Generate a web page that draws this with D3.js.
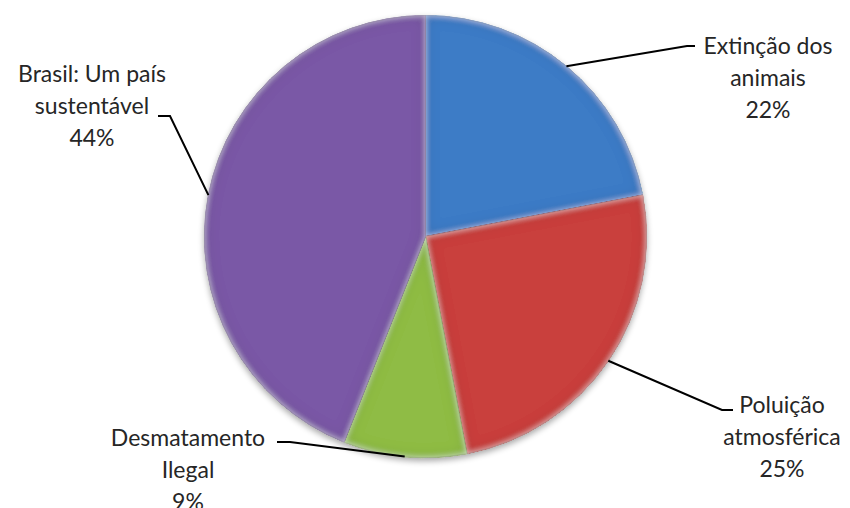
<!DOCTYPE html>
<html>
<head>
<meta charset="utf-8">
<script src="https://cdn.jsdelivr.net/npm/d3@7"></script>
<style>
  html, body { margin: 0; padding: 0; background: #ffffff; }
  svg { display: block; }
</style>
</head>
<body>
<svg id="chart" width="850" height="508"></svg>
<script>
// Survey topics and their share of answers (percent)
const categories = ["Extinção dos animais", "Poluição atmosférica", "Desmatamento Ilegal", "Brasil: Um país sustentável"];
const values = [22, 25, 9, 44];
const labelLines = [
  ["Extinção dos", "animais"],
  ["Poluição", "atmosférica"],
  ["Desmatamento", "Ilegal"],
  ["Brasil: Um país", "sustentável"]
];
const colors = ["#3d7cc6", "#c9403e", "#8fbc45", "#7a58a6"];
const strokeColors = ["#2c5f9e", "#9a2e2c", "#6e9433", "#5c4080"];

// Layout
const width = 850, height = 508;
const cx = 425.5, cy = 236.5, radius = 221;
const fontSize = 23, lineGap = 32;
// Where each callout bends and where its text block sits
const callouts = [
  { elbow: [687, 46], end: [695, 46], tx: 768, ty: 45 },
  { elbow: [722, 410], end: [733, 410], tx: 782, ty: 404 },
  { elbow: [290, 442], end: [277, 442], tx: 188, ty: 437 },
  { elbow: [170, 116], end: [158, 116], tx: 92, ty: 73 }
];

const svg = d3.select("#chart");
const defs = svg.append("defs");

// Soft shadow under the whole pie
const shadow = defs.append("filter").attr("id", "pieShadow")
  .attr("x", "-10%").attr("y", "-10%").attr("width", "120%").attr("height", "125%");
shadow.append("feGaussianBlur").attr("in", "SourceAlpha").attr("stdDeviation", 3).attr("result", "sb");
shadow.append("feOffset").attr("in", "sb").attr("dx", 0).attr("dy", 3).attr("result", "so");
shadow.append("feComponentTransfer").attr("in", "so").attr("result", "sf")
  .append("feFuncA").attr("type", "linear").attr("slope", 0.35);
const sm = shadow.append("feMerge");
sm.append("feMergeNode").attr("in", "sf");
sm.append("feMergeNode").attr("in", "SourceGraphic");

// Rounded bevel on each slice: light rim just inside the edge, darker band behind it
const bevel = defs.append("filter").attr("id", "bevel")
  .attr("x", "-5%").attr("y", "-5%").attr("width", "110%").attr("height", "110%");
bevel.append("feGaussianBlur").attr("in", "SourceAlpha").attr("stdDeviation", 3).attr("result", "b1");
bevel.append("feGaussianBlur").attr("in", "SourceAlpha").attr("stdDeviation", 7).attr("result", "b2");
bevel.append("feComposite").attr("in", "SourceAlpha").attr("in2", "b1")
  .attr("operator", "arithmetic").attr("k1", 0).attr("k2", 1).attr("k3", -1).attr("k4", 0).attr("result", "rim");
bevel.append("feComposite").attr("in", "b1").attr("in2", "b2")
  .attr("operator", "arithmetic").attr("k1", 0).attr("k2", 1).attr("k3", -1).attr("k4", 0).attr("result", "band");
bevel.append("feFlood").attr("flood-color", "#ffffff").attr("flood-opacity", 0.5).attr("result", "white");
bevel.append("feComposite").attr("in", "white").attr("in2", "rim").attr("operator", "in").attr("result", "hi");
bevel.append("feFlood").attr("flood-color", "#000000").attr("flood-opacity", 0.3).attr("result", "black");
bevel.append("feComposite").attr("in", "black").attr("in2", "band").attr("operator", "in").attr("result", "lo0");
bevel.append("feComposite").attr("in", "lo0").attr("in2", "SourceAlpha").attr("operator", "in").attr("result", "lo");
const bm = bevel.append("feMerge");
bm.append("feMergeNode").attr("in", "SourceGraphic");
bm.append("feMergeNode").attr("in", "lo");
bm.append("feMergeNode").attr("in", "hi");

const data = categories.map((c, i) => ({ name: c, value: values[i], index: i }));

const pie = d3.pie().value(d => d.value).sort(null);
const arcs = pie(data);
const arc = d3.arc().innerRadius(0).outerRadius(radius);

const g = svg.append("g")
  .attr("transform", `translate(${cx},${cy})`)
  .attr("filter", "url(#pieShadow)");

g.selectAll("path.slice")
  .data(arcs)
  .join("path")
  .attr("class", "slice")
  .attr("d", arc)
  .attr("fill", d => colors[d.data.index])
  .attr("stroke", d => strokeColors[d.data.index])
  .attr("stroke-width", 0.8)
  .attr("filter", "url(#bevel)");

// Callout lines from the slice rim to each label
const lineGen = d3.line();
svg.selectAll("path.leader")
  .data(arcs)
  .join("path")
  .attr("class", "leader")
  .attr("d", d => {
    const mid = (d.startAngle + d.endAngle) / 2;
    const start = [cx + radius * Math.sin(mid), cy - radius * Math.cos(mid)];
    const c = callouts[d.data.index];
    return lineGen([start, c.elbow, c.end]);
  })
  .attr("fill", "none")
  .attr("stroke", "#000")
  .attr("stroke-width", 2);

// Labels: name lines followed by the percentage
const fmt = v => d3.format(".0%")(v / 100);
const labels = svg.selectAll("text.label")
  .data(arcs)
  .join("text")
  .attr("class", "label")
  .attr("text-anchor", "middle")
  .attr("font-family", "Lato, 'Open Sans', sans-serif")
  .attr("font-size", fontSize)
  .attr("fill", "#262626");

labels.each(function(d) {
  const c = callouts[d.data.index];
  const lines = labelLines[d.data.index].concat([fmt(d.data.value)]);
  d3.select(this).selectAll("tspan")
    .data(lines)
    .join("tspan")
    .attr("x", c.tx)
    .attr("y", (l, k) => c.ty + k * lineGap)
    .attr("dominant-baseline", "central")
    .text(l => l);
});
</script>
</body>
</html>
